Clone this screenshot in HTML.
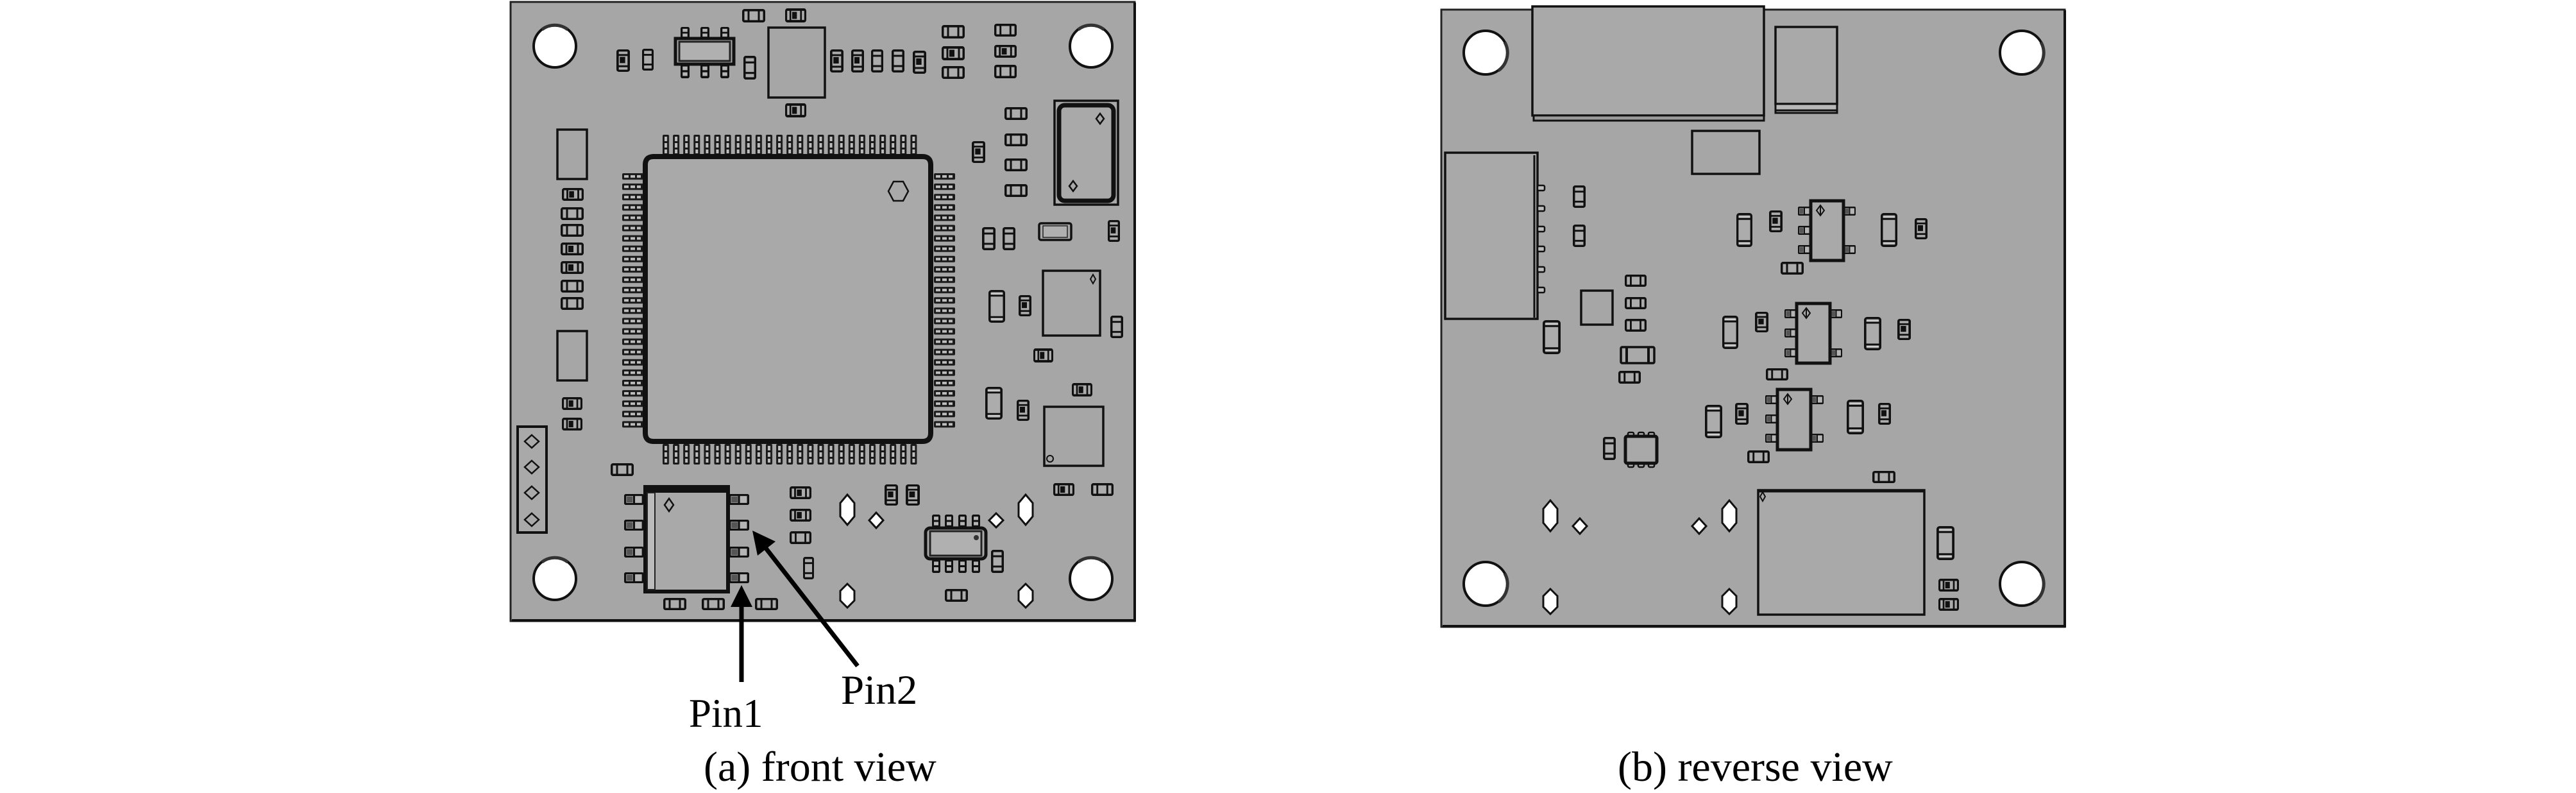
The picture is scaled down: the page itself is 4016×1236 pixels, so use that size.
<!DOCTYPE html>
<html><head><meta charset="utf-8"><style>
html,body{margin:0;padding:0;background:#fff;}
svg{display:block;}
</style></head><body>
<svg width="4016" height="1236" viewBox="0 0 4016 1236" xmlns="http://www.w3.org/2000/svg">
<defs>
<symbol id="rh" viewBox="0 0 36 20" preserveAspectRatio="none"><rect x="1.75" y="1.75" width="32.5" height="16.5" rx="2" fill="#acacac" stroke="#111" stroke-width="3.5"/><path d="M10 2V18M26 2V18" stroke="#111" stroke-width="3"/></symbol>
<symbol id="rhd" viewBox="0 0 36 20" preserveAspectRatio="none"><rect x="1.75" y="1.75" width="32.5" height="16.5" rx="2" fill="#acacac" stroke="#111" stroke-width="3.5"/><path d="M9 2V18M27 2V18" stroke="#111" stroke-width="3"/><rect x="12" y="5" width="8" height="10" fill="#111"/></symbol>
<symbol id="rv" viewBox="0 0 20 36" preserveAspectRatio="none"><rect x="1.75" y="1.75" width="16.5" height="32.5" rx="2" fill="#acacac" stroke="#111" stroke-width="3.5"/><path d="M2 10H18M2 26H18" stroke="#111" stroke-width="3"/></symbol>
<symbol id="rvd" viewBox="0 0 20 36" preserveAspectRatio="none"><rect x="1.75" y="1.75" width="16.5" height="32.5" rx="2" fill="#acacac" stroke="#111" stroke-width="3.5"/><path d="M2 9H18M2 27H18" stroke="#111" stroke-width="3"/><rect x="5" y="12" width="8" height="10" fill="#111"/></symbol>
<symbol id="cv" viewBox="0 0 26 52" preserveAspectRatio="none"><rect x="1.75" y="1.75" width="22.5" height="48.5" rx="3" fill="#acacac" stroke="#111" stroke-width="3.5"/><path d="M2 9H24M2 43H24" stroke="#111" stroke-width="3"/><path d="M4 6H22M4 46H22" stroke="#d0d0d0" stroke-width="2"/></symbol>
<symbol id="ph" viewBox="0 0 30 18" preserveAspectRatio="none"><rect x="1.5" y="1.5" width="27" height="15" rx="2" fill="#b5b5b5" stroke="#111" stroke-width="3.5"/><path d="M15 2V16" stroke="#111" stroke-width="3"/><rect x="4" y="4" width="9" height="10" fill="#555"/></symbol>
<symbol id="pv" viewBox="0 0 14 20" preserveAspectRatio="none"><rect x="1.5" y="1.5" width="11" height="17" rx="2" fill="#b5b5b5" stroke="#111" stroke-width="3.5"/><path d="M2 10H12" stroke="#111" stroke-width="3"/></symbol>
<pattern id="qt" x="1033" y="210" width="16.1" height="32" patternUnits="userSpaceOnUse"><rect x="0" y="0" width="10" height="32" rx="2" fill="#1a1a1a"/><rect x="3" y="3" width="4" height="7" fill="#bdbdbd"/><rect x="3" y="13" width="4" height="7" fill="#bdbdbd"/><rect x="3" y="23" width="4" height="6" fill="#bdbdbd"/></pattern>
<pattern id="qb" x="1033" y="692" width="16.1" height="32" patternUnits="userSpaceOnUse"><rect x="0" y="0" width="10" height="32" rx="2" fill="#1a1a1a"/><rect x="3" y="3" width="4" height="7" fill="#bdbdbd"/><rect x="3" y="13" width="4" height="7" fill="#bdbdbd"/><rect x="3" y="23" width="4" height="6" fill="#bdbdbd"/></pattern>
<pattern id="ql" x="970" y="270" width="33" height="16.1" patternUnits="userSpaceOnUse"><rect x="0" y="0" width="33" height="10" rx="2" fill="#1a1a1a"/><rect x="3" y="3" width="7" height="4" fill="#bdbdbd"/><rect x="13" y="3" width="7" height="4" fill="#bdbdbd"/><rect x="23" y="3" width="6" height="4" fill="#bdbdbd"/></pattern>
<pattern id="qr" x="1456" y="270" width="33" height="16.1" patternUnits="userSpaceOnUse"><rect x="0" y="0" width="33" height="10" rx="2" fill="#1a1a1a"/><rect x="3" y="3" width="7" height="4" fill="#bdbdbd"/><rect x="13" y="3" width="7" height="4" fill="#bdbdbd"/><rect x="23" y="3" width="6" height="4" fill="#bdbdbd"/></pattern>
</defs>

<!-- ================= FRONT BOARD ================= -->
<rect x="796" y="3" width="973" height="965" fill="#a6a6a6" stroke="#222" stroke-width="3"/>
<path d="M798 967H1769V4" fill="none" stroke="#111" stroke-width="4"/>

<g fill="#fff" stroke="#111" stroke-width="4">
<circle cx="865" cy="72" r="33"/><circle cx="1701" cy="72" r="33"/>
<circle cx="865" cy="902" r="33"/><circle cx="1701" cy="902" r="33"/>
</g>
<g fill="none" stroke="#333" stroke-width="5">
<path d="M845 46A33 33 0 0 1 885 46"/><path d="M1681 46A33 33 0 0 1 1721 46"/>
<path d="M845 876A33 33 0 0 1 885 876"/><path d="M1681 876A33 33 0 0 1 1721 876"/>
</g>

<use href="#rh" x="1157" y="14" width="36" height="21"/>
<use href="#rhd" x="1224" y="13" width="33" height="22"/>
<g>
<use href="#pv" x="1061" y="42" width="14" height="18"/><use href="#pv" x="1092" y="42" width="14" height="18"/><use href="#pv" x="1123" y="42" width="14" height="18"/>
<use href="#pv" x="1061" y="100" width="14" height="22"/><use href="#pv" x="1092" y="100" width="14" height="22"/><use href="#pv" x="1123" y="100" width="14" height="22"/>
<rect x="1053" y="60" width="91" height="40" fill="#a9a9a9" stroke="#111" stroke-width="5"/>
<rect x="1059" y="65" width="79" height="30" fill="#b0b0b0" stroke="#222" stroke-width="3"/>
</g>
<use href="#rvd" x="961" y="77" width="21" height="35"/>
<use href="#rv" x="1001" y="76" width="18" height="34"/>
<use href="#rv" x="1159" y="87" width="20" height="37"/>
<rect x="1198" y="43" width="88" height="109" fill="none" stroke="#111" stroke-width="3.5"/>
<use href="#rhd" x="1224" y="161" width="33" height="22"/>
<use href="#rvd" x="1294" y="77" width="21" height="36"/>
<use href="#rvd" x="1327" y="77" width="20" height="36"/>
<use href="#rv" x="1358" y="77" width="19" height="36"/>
<use href="#rv" x="1390" y="77" width="20" height="36"/>
<use href="#rvd" x="1423" y="79" width="21" height="36"/>
<use href="#rh" x="1468" y="39" width="36" height="21"/>
<use href="#rhd" x="1468" y="72" width="36" height="22"/>
<use href="#rh" x="1468" y="103" width="36" height="20"/>
<use href="#rh" x="1550" y="37" width="35" height="20"/>
<use href="#rhd" x="1550" y="70" width="35" height="20"/>
<use href="#rh" x="1550" y="101" width="35" height="21"/>

<rect x="869" y="202" width="46" height="77" fill="none" stroke="#111" stroke-width="3.5"/>
<use href="#rhd" x="876" y="293" width="34" height="20"/>
<use href="#rh" x="874" y="323" width="36" height="20"/>
<use href="#rh" x="874" y="349" width="36" height="20"/>
<use href="#rhd" x="874" y="378" width="36" height="20"/>
<use href="#rhd" x="874" y="407" width="36" height="20"/>
<use href="#rh" x="874" y="436" width="36" height="20"/>
<use href="#rh" x="874" y="463" width="36" height="20"/>
<rect x="869" y="516" width="46" height="77" fill="none" stroke="#111" stroke-width="3.5"/>
<use href="#rhd" x="876" y="619" width="32" height="20"/>
<use href="#rhd" x="876" y="651" width="32" height="20"/>
<rect x="807" y="665" width="45" height="165" fill="#a9a9a9" stroke="#111" stroke-width="4"/>
<g fill="none" stroke="#111" stroke-width="2.5">
<path d="M829 678L840 688L829 698L818 688Z"/><path d="M829 718L840 728L829 738L818 728Z"/>
<path d="M829 758L840 768L829 778L818 768Z"/><path d="M829 800L840 810L829 820L818 810Z"/>
</g>
<use href="#rh" x="952" y="722" width="36" height="20"/>

<rect x="1033" y="210" width="397" height="32" fill="url(#qt)"/>
<rect x="1033" y="692" width="397" height="32" fill="url(#qb)"/>
<rect x="970" y="270" width="33" height="397" fill="url(#ql)"/>
<rect x="1456" y="270" width="33" height="397" fill="url(#qr)"/>
<path d="M1019 244H1438Q1451 244 1451 257V675Q1451 688 1438 688H1019Q1006 688 1006 675V257Q1006 244 1019 244Z" fill="#a9a9a9" stroke="#111" stroke-width="8"/>
<path d="M1393 283H1408L1416 298L1408 313H1393L1385 298Z" fill="none" stroke="#111" stroke-width="2.5"/>

<rect x="1644" y="157" width="99" height="162" fill="#a9a9a9" stroke="#111" stroke-width="3.5"/>
<rect x="1651" y="164" width="85" height="149" rx="9" fill="#a9a9a9" stroke="#111" stroke-width="7"/>
<path d="M1715 177L1721 185L1715 193L1709 185Z" fill="none" stroke="#111" stroke-width="2.5"/>
<path d="M1673 282L1679 290L1673 298L1667 290Z" fill="none" stroke="#111" stroke-width="2.5"/>
<use href="#rh" x="1566" y="167" width="36" height="20"/>
<use href="#rh" x="1566" y="208" width="36" height="20"/>
<use href="#rh" x="1566" y="247" width="36" height="20"/>
<use href="#rh" x="1566" y="287" width="36" height="20"/>
<use href="#rvd" x="1515" y="220" width="21" height="34"/>
<use href="#rv" x="1531" y="354" width="21" height="36"/>
<use href="#rv" x="1563" y="354" width="20" height="36"/>
<rect x="1620" y="348" width="50" height="26" rx="3" fill="#a9a9a9" stroke="#111" stroke-width="3.5"/>
<rect x="1626" y="352" width="38" height="18" fill="#b0b0b0" stroke="#222" stroke-width="1.5"/>
<use href="#rvd" x="1727" y="343" width="19" height="34"/>
<rect x="1626" y="422" width="89" height="101" fill="none" stroke="#111" stroke-width="3.5"/>
<path d="M1704 428L1708 435L1704 442L1700 435Z" fill="none" stroke="#111" stroke-width="2"/>
<use href="#cv" x="1541" y="452" width="26" height="51"/>
<use href="#rvd" x="1588" y="460" width="20" height="33"/>
<use href="#rv" x="1731" y="492" width="20" height="35"/>
<use href="#rhd" x="1611" y="543" width="31" height="22"/>
<use href="#rhd" x="1671" y="597" width="32" height="21"/>
<use href="#cv" x="1536" y="603" width="27" height="51"/>
<use href="#rvd" x="1585" y="623" width="20" height="33"/>
<rect x="1628" y="634" width="92" height="92" fill="none" stroke="#111" stroke-width="3.5"/>
<circle cx="1637" cy="715" r="5" fill="none" stroke="#111" stroke-width="2"/>
<use href="#rhd" x="1642" y="753" width="33" height="20"/>
<use href="#rh" x="1701" y="753" width="35" height="20"/>

<use href="#ph" x="973" y="770" width="31" height="17"/><use href="#ph" x="973" y="810" width="31" height="17"/>
<use href="#ph" x="973" y="852" width="31" height="17"/><use href="#ph" x="973" y="892" width="31" height="17"/>
<use href="#ph" x="1136" y="770" width="32" height="17"/><use href="#ph" x="1136" y="810" width="32" height="17"/>
<use href="#ph" x="1136" y="852" width="32" height="17"/><use href="#ph" x="1136" y="892" width="32" height="17"/>
<rect x="1006" y="759" width="129" height="163" fill="#a9a9a9" stroke="#111" stroke-width="6"/>
<rect x="1006" y="759" width="129" height="9" fill="#111"/>
<rect x="1009" y="768" width="12" height="151" fill="#bcbcbc" stroke="#222" stroke-width="2"/>
<path d="M1043 777L1050 787L1043 797L1036 787Z" fill="none" stroke="#111" stroke-width="2.5"/>
<use href="#rh" x="1034" y="932" width="36" height="19"/>
<use href="#rh" x="1094" y="932" width="36" height="19"/>
<use href="#rh" x="1177" y="932" width="36" height="19"/>
<use href="#rhd" x="1231" y="758" width="34" height="20"/>
<use href="#rhd" x="1231" y="793" width="34" height="20"/>
<use href="#rh" x="1231" y="828" width="34" height="20"/>
<use href="#rv" x="1252" y="868" width="17" height="35"/>
<g fill="#fff" stroke="#111" stroke-width="3">
<path d="M1321 771L1332 784L1332 805L1321 818L1310 805L1310 784Z"/>
<path d="M1321 910L1332 921L1332 936L1321 947L1310 936L1310 921Z"/>
<path d="M1599 771L1610 784L1610 805L1599 818L1588 805L1588 784Z"/>
<path d="M1599 910L1610 921L1610 936L1599 947L1588 936L1588 921Z"/>
<path d="M1366 799L1377 811L1366 823L1355 811Z"/>
<path d="M1553 800L1564 811L1553 822L1542 811Z"/>
</g>
<use href="#rvd" x="1379" y="755" width="21" height="33"/>
<use href="#rvd" x="1412" y="755" width="22" height="33"/>
<use href="#pv" x="1453" y="802" width="13" height="20"/><use href="#pv" x="1473" y="802" width="13" height="20"/>
<use href="#pv" x="1494" y="802" width="13" height="20"/><use href="#pv" x="1515" y="802" width="13" height="20"/>
<use href="#pv" x="1453" y="872" width="13" height="21"/><use href="#pv" x="1473" y="872" width="13" height="21"/>
<use href="#pv" x="1494" y="872" width="13" height="21"/><use href="#pv" x="1515" y="872" width="13" height="21"/>
<rect x="1443" y="823" width="94" height="48" rx="7" fill="#a9a9a9" stroke="#111" stroke-width="5"/>
<rect x="1450" y="828" width="80" height="38" fill="#b0b0b0" stroke="#222" stroke-width="3"/>
<circle cx="1522" cy="838" r="4" fill="#333"/>
<use href="#rv" x="1545" y="857" width="20" height="36"/>
<use href="#rh" x="1473" y="918" width="36" height="20"/>

<line x1="1156" y1="1063" x2="1156" y2="940" stroke="#000" stroke-width="7"/>
<polygon points="1156,912 1139,946 1173,946" fill="#000"/>
<line x1="1337" y1="1038" x2="1192" y2="852" stroke="#000" stroke-width="7"/>
<polygon points="1173,827 1209,844 1181,866" fill="#000"/>

<!-- ================= REVERSE BOARD ================= -->
<rect x="2247" y="15" width="972" height="962" fill="#a6a6a6" stroke="#222" stroke-width="3"/>
<path d="M2249 976H3219V16" fill="none" stroke="#111" stroke-width="4"/>
<g fill="#fff" stroke="#111" stroke-width="4">
<circle cx="2316" cy="82" r="34"/><circle cx="3152" cy="82" r="34"/>
<circle cx="2316" cy="910" r="34"/><circle cx="3152" cy="910" r="34"/>
</g>
<g fill="none" stroke="#333" stroke-width="5">
<path d="M2346 66A34 34 0 0 1 2336 110"/><path d="M3182 66A34 34 0 0 1 3172 110"/>
<path d="M2346 894A34 34 0 0 1 2336 938"/><path d="M3182 894A34 34 0 0 1 3172 938"/>
</g>

<rect x="2389" y="10" width="361" height="170" fill="#a9a9a9" stroke="#111" stroke-width="3.5"/>
<rect x="2391" y="180" width="359" height="8" fill="#9a9a9a" stroke="#111" stroke-width="3"/>
<rect x="2768" y="42" width="96" height="120" fill="#a9a9a9" stroke="#111" stroke-width="3.5"/>
<rect x="2768" y="162" width="96" height="14" fill="#b8b8b8" stroke="#111" stroke-width="3"/>
<line x1="2768" y1="172" x2="2864" y2="172" stroke="#111" stroke-width="3"/>
<rect x="2638" y="204" width="105" height="67" fill="none" stroke="#111" stroke-width="3.5"/>

<rect x="2253" y="238" width="144" height="259" fill="#a9a9a9" stroke="#111" stroke-width="3.5"/>
<line x1="2392" y1="242" x2="2392" y2="495" stroke="#111" stroke-width="3"/>
<g fill="#bcbcbc" stroke="#111" stroke-width="2.5">
<rect x="2397" y="289" width="11" height="8" rx="2"/><rect x="2397" y="321" width="11" height="8" rx="2"/>
<rect x="2397" y="353" width="11" height="8" rx="2"/><rect x="2397" y="384" width="11" height="8" rx="2"/>
<rect x="2397" y="416" width="11" height="8" rx="2"/><rect x="2397" y="448" width="11" height="8" rx="2"/>
</g>
<use href="#rv" x="2452" y="289" width="20" height="35"/>
<use href="#rv" x="2452" y="350" width="20" height="35"/>

<use href="#ph" x="2803" y="322" width="20" height="14"/><use href="#ph" x="2803" y="352" width="20" height="14"/><use href="#ph" x="2803" y="382" width="20" height="14"/>
<use href="#ph" x="2874" y="322" width="19" height="14"/><use href="#ph" x="2874" y="382" width="19" height="14"/>
<rect x="2823" y="313" width="51" height="93" fill="#a9a9a9" stroke="#111" stroke-width="5"/>
<path d="M2838 320L2844 328L2838 336L2832 328Z M2838 320V336" fill="none" stroke="#111" stroke-width="2"/>
<use href="#cv" x="2707" y="332" width="25" height="53"/>
<use href="#rvd" x="2758" y="328" width="21" height="34"/>
<use href="#cv" x="2932" y="332" width="26" height="53"/>
<use href="#rvd" x="2985" y="340" width="20" height="33"/>
<use href="#rh" x="2776" y="408" width="36" height="20"/>
<use href="#rh" x="2533" y="428" width="34" height="19"/>
<use href="#rh" x="2533" y="463" width="34" height="19"/>
<use href="#rh" x="2533" y="497" width="34" height="20"/>
<rect x="2465" y="453" width="49" height="53" fill="none" stroke="#111" stroke-width="3.5"/>
<use href="#cv" x="2405" y="499" width="28" height="53"/>
<rect x="2527" y="541" width="52" height="25" rx="2" fill="#a9a9a9" stroke="#111" stroke-width="3.5"/>
<path d="M2536 542V565M2570 542V565" stroke="#111" stroke-width="4"/>
<use href="#rh" x="2523" y="578" width="35" height="20"/>

<use href="#ph" x="2782" y="482" width="19" height="14"/><use href="#ph" x="2782" y="512" width="19" height="14"/><use href="#ph" x="2782" y="543" width="19" height="14"/>
<use href="#ph" x="2853" y="482" width="19" height="14"/><use href="#ph" x="2853" y="543" width="19" height="14"/>
<rect x="2801" y="473" width="52" height="93" fill="#a9a9a9" stroke="#111" stroke-width="5"/>
<path d="M2816 480L2822 488L2816 496L2810 488Z M2816 480V496" fill="none" stroke="#111" stroke-width="2"/>
<use href="#cv" x="2685" y="492" width="25" height="52"/>
<use href="#rvd" x="2736" y="486" width="21" height="32"/>
<use href="#cv" x="2906" y="494" width="27" height="52"/>
<use href="#rvd" x="2958" y="497" width="21" height="33"/>
<use href="#rh" x="2753" y="574" width="35" height="19"/>

<use href="#ph" x="2752" y="616" width="19" height="14"/><use href="#ph" x="2752" y="646" width="19" height="14"/><use href="#ph" x="2752" y="676" width="19" height="14"/>
<use href="#ph" x="2823" y="616" width="20" height="14"/><use href="#ph" x="2823" y="676" width="20" height="14"/>
<rect x="2771" y="607" width="52" height="94" fill="#a9a9a9" stroke="#111" stroke-width="5"/>
<path d="M2787 614L2793 622L2787 630L2781 622Z M2787 614V630" fill="none" stroke="#111" stroke-width="2"/>
<use href="#cv" x="2658" y="631" width="27" height="52"/>
<use href="#rvd" x="2705" y="628" width="21" height="34"/>
<use href="#cv" x="2879" y="623" width="27" height="54"/>
<use href="#rvd" x="2928" y="628" width="20" height="34"/>
<use href="#rh" x="2724" y="702" width="35" height="20"/>

<g fill="#b5b5b5" stroke="#111" stroke-width="2.5">
<rect x="2538" y="674" width="9" height="8" rx="2"/><rect x="2554" y="674" width="9" height="8" rx="2"/><rect x="2570" y="674" width="9" height="8" rx="2"/>
<rect x="2538" y="720" width="9" height="8" rx="2"/><rect x="2554" y="720" width="9" height="8" rx="2"/><rect x="2570" y="720" width="9" height="8" rx="2"/>
</g>
<rect x="2534" y="680" width="49" height="42" rx="3" fill="#a9a9a9" stroke="#111" stroke-width="5"/>
<use href="#rv" x="2499" y="681" width="20" height="36"/>
<use href="#rh" x="2919" y="734" width="36" height="19"/>

<rect x="2741" y="764" width="259" height="194" fill="#a9a9a9" stroke="#111" stroke-width="3.5"/>
<line x1="2741" y1="765" x2="3000" y2="765" stroke="#111" stroke-width="5"/>
<path d="M2748 767L2752 774L2748 781L2744 774Z" fill="none" stroke="#111" stroke-width="2"/>
<use href="#cv" x="3019" y="820" width="28" height="53"/>
<use href="#rhd" x="3022" y="902" width="32" height="20"/>
<use href="#rhd" x="3022" y="932" width="32" height="20"/>

<g fill="#fff" stroke="#111" stroke-width="3">
<path d="M2417 780L2428 793L2428 815L2417 828L2406 815L2406 793Z"/>
<path d="M2696 780L2707 793L2707 815L2696 828L2685 815L2685 793Z"/>
<path d="M2417 918L2428 929L2428 946L2417 957L2406 946L2406 929Z"/>
<path d="M2696 918L2707 929L2707 946L2696 957L2685 946L2685 929Z"/>
<path d="M2463 808L2474 820L2463 832L2452 820Z"/>
<path d="M2649 808L2660 820L2649 832L2638 820Z"/>
</g>

<g font-family="'Liberation Serif', 'Times New Roman', serif" fill="#000">
<text x="1074" y="1133" font-size="63">Pin1</text>
<text x="1311" y="1097" font-size="65">Pin2</text>
<text x="1097" y="1217" font-size="66">(a) front view</text>
<text x="2522" y="1217" font-size="66">(b) reverse view</text>
</g>
</svg>
</body></html>
